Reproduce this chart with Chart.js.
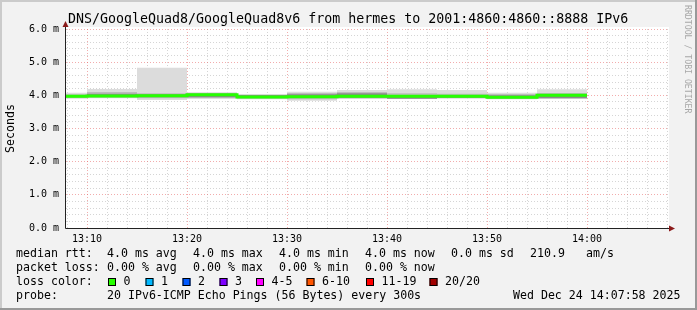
<!DOCTYPE html>
<html>
<head>
<meta charset="utf-8">
<script src="https://cdn.jsdelivr.net/npm/chart.js@4.4.1/dist/chart.umd.min.js"></script>
<style>
  html, body { margin: 0; padding: 0; background: #f2f2f2; }
  canvas { display: block; }
</style>
</head>
<body>
<canvas id="smoke" width="697" height="310"></canvas>
<script>
// interval end times, minutes after 13:00 (each value covers the 5 min before it)
const times = [10, 15, 20, 25, 30, 35, 40, 45, 50, 55, 60];

// round trip times in ms
const pingMax  = [4.08, 4.19, 4.83, 4.09, 4.03, 4.11, 4.16, 4.18, 4.16, 4.08, 4.18];
const pingQ3   = [4.03, 4.10, 4.06, 4.07, 4.02, 4.07, 4.10, 4.06, 4.05, 4.04, 4.07];
const pingInHi = [4.00, 4.05, 4.03, 4.05, 4.01, 4.03, 4.06, 4.00, 4.01, 4.00, 4.02];
const median   = [3.97, 3.98, 3.99, 4.02, 3.95, 3.96, 3.97, 3.97, 3.97, 3.94, 4.00];
const pingInLo = [3.94, 3.95, 3.94, 3.94, 3.92, 3.92, 3.93, 3.90, 3.93, 3.91, 3.92];
const pingQ1   = [3.92, 3.93, 3.91, 3.92, 3.90, 3.88, 3.91, 3.90, 3.92, 3.90, 3.90];
const pingMin  = [3.90, 3.91, 3.86, 3.89, 3.88, 3.84, 3.89, 3.89, 3.90, 3.88, 3.89];

const lossLabels = ['0', '1', '2', '3', '4-5', '6-10', '11-19', '20/20'];
const lossColors = ['#26ff00', '#00b8ff', '#0059ff', '#7e00ff', '#ff00ff', '#ff5500', '#ff0000', '#a10000'];

const title = 'DNS/GoogleQuad8/GoogleQuad8v6 from hermes to 2001:4860:4860::8888 IPv6';
const statRtt = ['median rtt:', '4.0 ms avg', '4.0 ms max', '4.0 ms min', '4.0 ms now', '0.0 ms sd', '210.9', 'am/s'];
const statLoss = ['packet loss:', '0.00 % avg', '0.00 % max', '0.00 % min', '0.00 % now'];
const probeText = '20 IPv6-ICMP Echo Pings (56 Bytes) every 300s';
const stamp = 'Wed Dec 24 14:07:58 2025';

const MONO = '"DejaVu Sans Mono", monospace';
const MAJOR_GRID = 'rgba(230,90,90,0.5)';
const MINOR_GRID = 'rgba(150,150,150,0.4)';

// each step needs the start of the first interval too
function steps(vals) {
    const pts = [{ x: times[0] - 5, y: vals[0] }];
    times.forEach((t, i) => pts.push({ x: t, y: vals[i] }));
    return pts;
}

function band(vals, color, order) {
    return {
        data: steps(vals),
        stepped: 'after',
        borderWidth: 0,
        borderColor: 'transparent',
        backgroundColor: color,
        pointRadius: 0,
        fill: color ? '+1' : false,
        order: order
    };
}

const isMajor = v => Math.abs(v - Math.round(v)) < 1e-6;

const rrdLook = {
    id: 'rrdLook',
    beforeDraw(chart) {
        const c = chart.ctx;
        const a = chart.chartArea;
        c.save();
        c.fillStyle = '#f2f2f2';
        c.fillRect(0, 0, 697, 310);
        // frame shading
        c.fillStyle = '#cbcbcb';
        c.fillRect(0, 0, 697, 2);
        c.fillRect(0, 0, 2, 310);
        c.fillStyle = '#999999';
        c.fillRect(0, 308, 697, 2);
        c.fillRect(695, 0, 2, 310);
        c.fillStyle = '#ffffff';
        c.fillRect(a.left, 27, a.right - a.left + 1, a.bottom - 27);
        c.restore();
    },
    afterDraw(chart) {
        const c = chart.ctx;
        const a = chart.chartArea;
        c.save();
        // axes with arrows
        c.strokeStyle = '#222';
        c.lineWidth = 1;
        c.beginPath();
        c.moveTo(a.left - 0.5, a.bottom + 0.5);
        c.lineTo(a.left - 0.5, 24);
        c.moveTo(a.left - 0.5, a.bottom + 0.5);
        c.lineTo(671, a.bottom + 0.5);
        c.stroke();
        c.fillStyle = '#8b1a1a';
        c.beginPath();
        c.moveTo(a.left - 0.5, 21);
        c.lineTo(a.left - 3.5, 27);
        c.lineTo(a.left + 2.5, 27);
        c.closePath();
        c.fill();
        c.beginPath();
        c.moveTo(675, a.bottom + 0.5);
        c.lineTo(669, a.bottom - 2.5);
        c.lineTo(669, a.bottom + 3.5);
        c.closePath();
        c.fill();

        // title
        c.fillStyle = '#000';
        c.textBaseline = 'middle';
        c.font = '13.3px ' + MONO;
        c.fillText(title, 68, 19.5);

        // legend block
        c.font = '11.6px ' + MONO;
        const rttX = [16, 107, 193, 279, 365, 451, 530, 586];
        statRtt.forEach((s, i) => c.fillText(s, rttX[i], 254));
        statLoss.forEach((s, i) => c.fillText(s, rttX[i], 268));
        c.fillText('loss color:', 16, 282);
        const boxX = [108, 145.5, 182.5, 219.5, 256, 306.5, 366, 429.5];
        lossLabels.forEach((l, i) => {
            c.fillStyle = lossColors[i];
            c.fillRect(boxX[i], 278, 8, 8);
            c.strokeStyle = '#000';
            c.strokeRect(boxX[i] + 0.5, 278.5, 7, 7);
            c.fillStyle = '#000';
            c.fillText(l, boxX[i] + 15.5, 282);
        });
        c.fillText('probe:', 16, 296);
        c.fillText(probeText, 107, 296);
        c.textAlign = 'right';
        c.fillText(stamp, 680.5, 296);

        // credit strip
        c.fillStyle = '#a8a8a8';
        c.font = '8.2px ' + MONO;
        c.textAlign = 'left';
        c.translate(687.5, 5);
        c.rotate(Math.PI / 2);
        c.fillText('RRDTOOL / TOBI OETIKER', 0, 0);
        c.restore();
    }
};

const ctx = document.getElementById('smoke').getContext('2d');
const smokeChart = new Chart(ctx, {
    type: 'line',
    data: {
        datasets: [
            band(pingMax, '#dcdcdc', 4),
            band(pingMin, null, 5),
            band(pingQ3, '#bcbcbc', 3),
            band(pingQ1, null, 5),
            band(pingInHi, '#8a8a8a', 2),
            band(pingInLo, null, 5),
            {
                data: steps(median),
                stepped: 'after',
                borderColor: lossColors[0],
                borderWidth: 3,
                pointRadius: 0,
                fill: false,
                order: 0
            }
        ]
    },
    options: {
        responsive: false,
        animation: false,
        layout: { padding: { top: 29, left: 0, right: 29, bottom: 0 } },
        plugins: {
            legend: { display: false },
            tooltip: { enabled: false },
            title: { display: false }
        },
        scales: {
            x: {
                type: 'linear',
                min: 7.9,
                max: 68.1,
                afterFit: s => { s.height = 82; },
                border: { display: false, dash: [1, 2] },
                grid: {
                    drawTicks: false,
                    color: t => (t.tick && t.tick.value % 10 === 0) ? MAJOR_GRID : MINOR_GRID
                },
                ticks: {
                    stepSize: 2,
                    includeBounds: false,
                    autoSkip: false,
                    maxRotation: 0,
                    padding: 5,
                    color: '#000',
                    font: { family: MONO, size: 10 },
                    callback: v => {
                        if (v % 10 !== 0) return '';
                        const h = 13 + Math.floor(v / 60);
                        const m = v % 60;
                        return h + ':' + String(m).padStart(2, '0');
                    }
                }
            },
            y: {
                min: 0,
                max: 6,
                afterFit: s => { s.width = 66; },
                border: { display: false, dash: [1, 2] },
                grid: {
                    drawTicks: false,
                    color: t => (t.tick && isMajor(t.tick.value)) ? MAJOR_GRID : MINOR_GRID
                },
                title: {
                    display: true,
                    text: 'Seconds',
                    color: '#000',
                    font: { family: MONO, size: 11.6 },
                    padding: { top: 4, bottom: 0 }
                },
                ticks: {
                    stepSize: 0.2,
                    autoSkip: false,
                    padding: 7,
                    color: '#000',
                    font: { family: MONO, size: 10 },
                    callback: v => isMajor(v) ? Math.round(v).toFixed(1) + ' m' : ''
                }
            }
        }
    },
    plugins: [rrdLook]
});
</script>
</body>
</html>
